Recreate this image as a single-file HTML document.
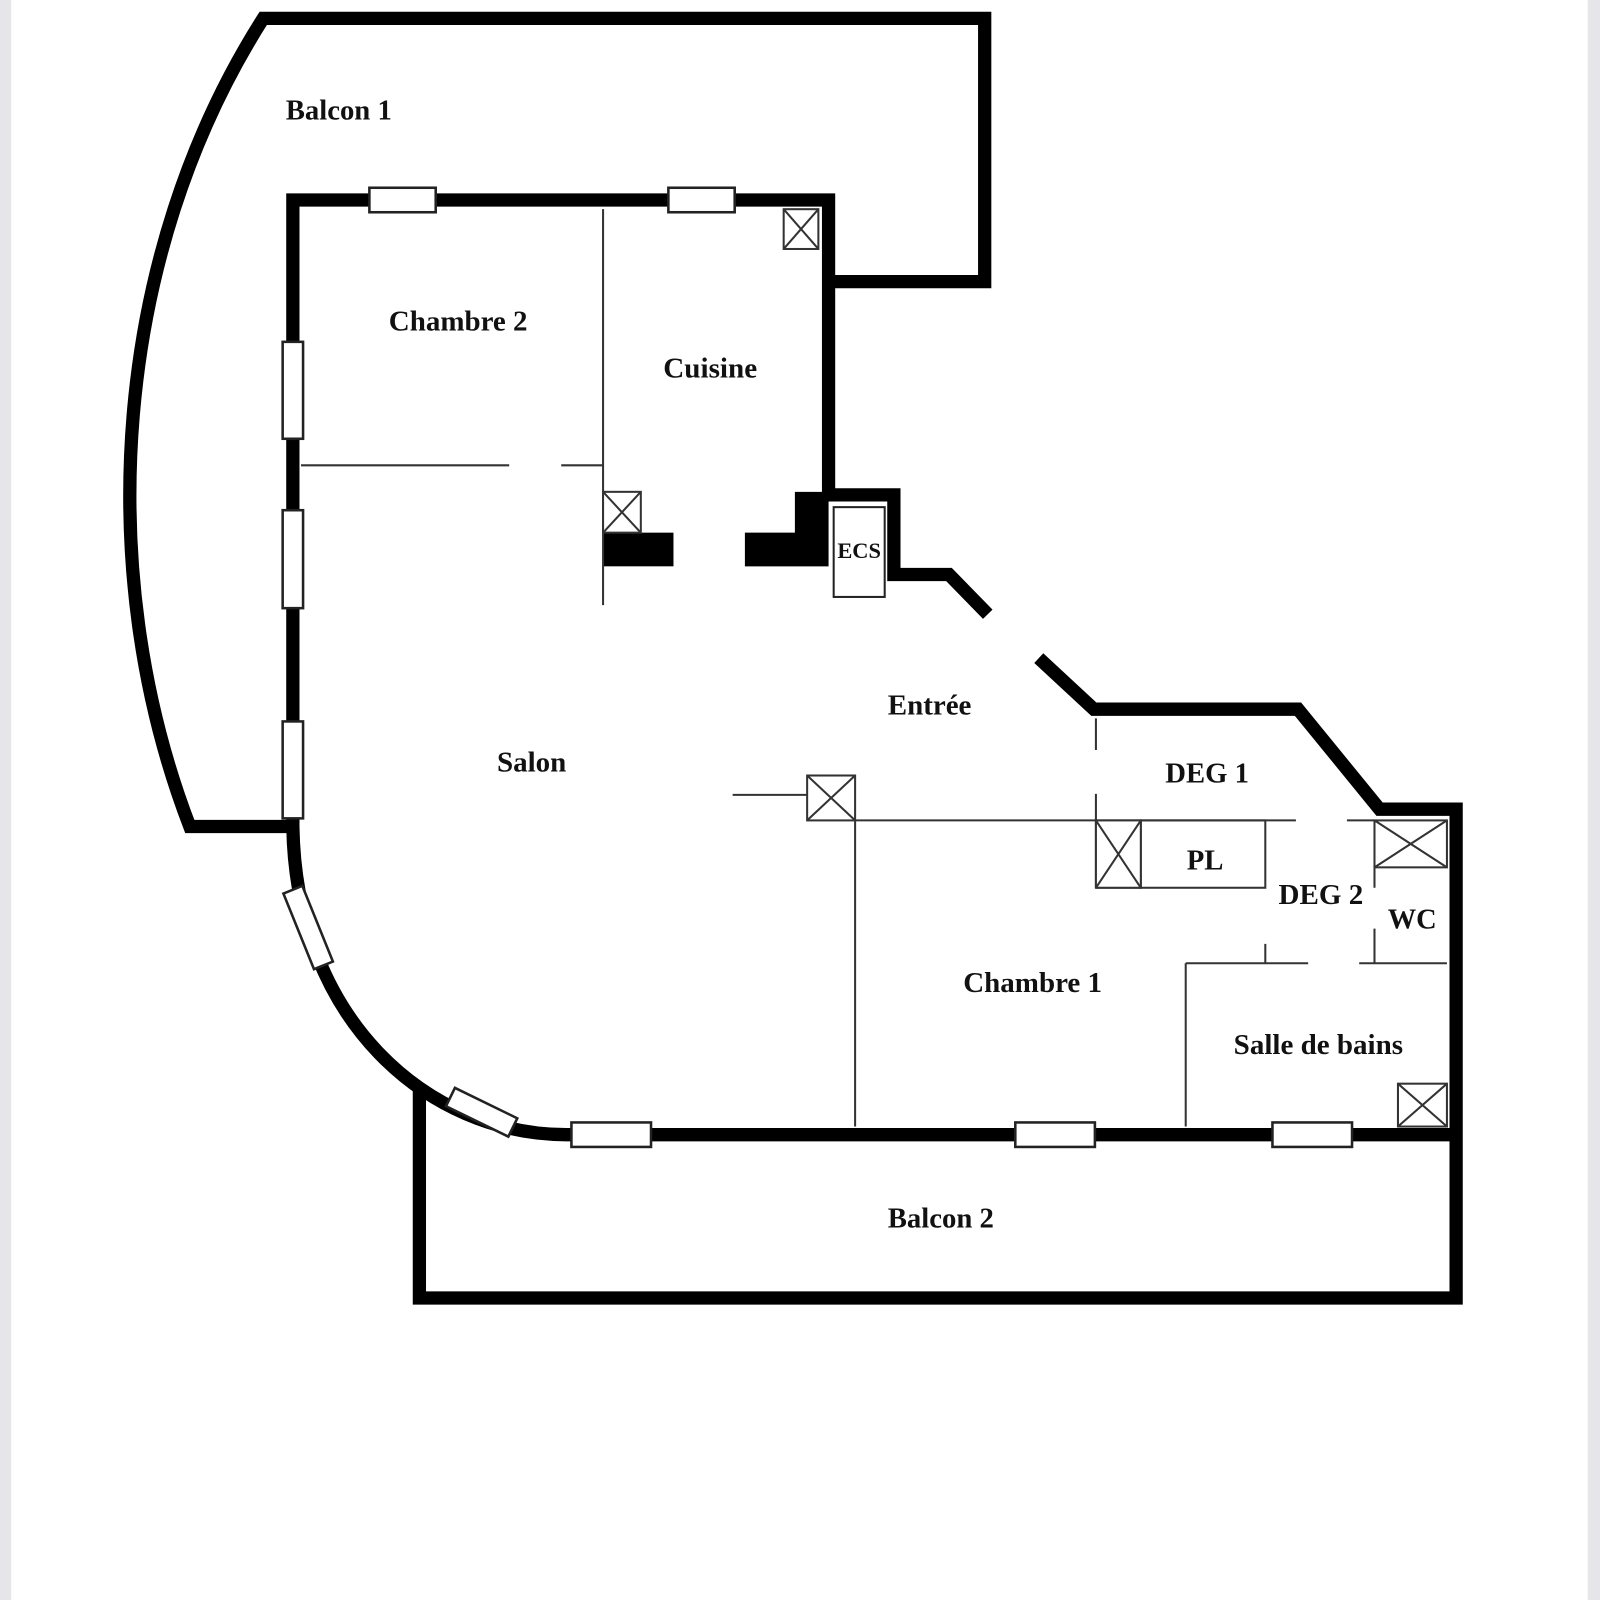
<!DOCTYPE html>
<html><head><meta charset="utf-8"><style>
html,body{margin:0;padding:0;background:#fff}
svg{display:block}
text{font-family:"Liberation Serif",serif;font-weight:bold;fill:#111}
</style></head><body>
<svg width="1600" height="1600" viewBox="0 0 1568 1568" xmlns="http://www.w3.org/2000/svg">
<rect x="0" y="0" width="1568" height="1568" fill="#fff"/>
<rect x="0" y="0" width="11" height="1568" fill="#e6e6ea"/>
<rect x="1556" y="0" width="12" height="1568" fill="#e6e6ea"/>
<g fill="none" stroke="#000" stroke-width="13" stroke-linejoin="miter">
<!-- Balcon 1 -->
<path d="M287,810 L186,810 C90,560 110,250 258,18 L965,18 L965,276 L812,276"/>
<!-- main walls -->
<path d="M287,810 L287,196 L812,196 L812,485 L876,485 L876,563 L930,563 L968,602"/>
<path d="M1018,645 L1072,695 L1272,695 L1352,793 L1427,793 L1427,1272 L411,1272 L411,1068"/>
<path d="M287,810 C290,1000 420,1112 555,1112 L1427,1112"/>
</g>
<!-- black blocks -->
<rect x="591" y="522" width="69" height="33" fill="#000"/>
<path d="M730,522 L779,522 L779,482 L812,482 L812,555 L730,555 Z" fill="#000"/>
<rect x="817" y="497" width="50" height="88" fill="#fff" stroke="#222" stroke-width="2"/>
<text x="842" y="547" font-size="22" text-anchor="middle" font-weight="normal">ECS</text>
<!-- thin lines -->
<g stroke="#333" stroke-width="2" fill="none">
<path d="M591,205 V593"/>
<path d="M295,456 H499 M550,456 H591"/>
<path d="M718,779 H791"/>
<path d="M838,804 V1104"/>
<path d="M838,804 H1270 M1320,804 H1347"/>
<path d="M1074,704 V735 M1074,778 V870"/>
<rect x="1118" y="804" width="122" height="66"/>
<path d="M1074,870 H1118"/>
<path d="M1240,925 V944"/>
<path d="M1162,944 H1282 M1332,944 H1418"/>
<path d="M1162,944 V1104"/>
<path d="M1347,850 V870 M1347,910 V944"/>
</g>
<!-- X boxes -->
<g stroke="#333" stroke-width="2" fill="#fff">
<g><rect x="768" y="205" width="34" height="39"/><path d="M768,205 L802,244 M802,205 L768,244"/></g>
<g><rect x="591" y="482" width="37" height="40"/><path d="M591,482 L628,522 M628,482 L591,522"/></g>
<g><rect x="791" y="760" width="47" height="44"/><path d="M791,760 L838,804 M838,760 L791,804"/></g>
<g><rect x="1074" y="804" width="44" height="66"/><path d="M1074,804 L1118,870 M1118,804 L1074,870"/></g>
<g><rect x="1347" y="804" width="71" height="46"/><path d="M1347,804 L1418,850 M1418,804 L1347,850"/></g>
<g><rect x="1370" y="1062" width="48" height="42"/><path d="M1370,1062 L1418,1104 M1418,1062 L1370,1104"/></g>
</g>
<!-- windows -->
<g fill="#fff" stroke="#222" stroke-width="2.5">
<rect x="362" y="184" width="65" height="24"/>
<rect x="655" y="184" width="65" height="24"/>
<rect x="277" y="335" width="20" height="95"/>
<rect x="277" y="500" width="20" height="96"/>
<rect x="277" y="707" width="20" height="95"/>
<rect x="-40" y="-10" width="80" height="20" transform="translate(302,909) rotate(68)"/>
<rect x="-34" y="-10" width="68" height="20" transform="translate(472,1090) rotate(26)"/>
<rect x="560" y="1100" width="78" height="24"/>
<rect x="995" y="1100" width="78" height="24"/>
<rect x="1247" y="1100" width="78" height="24"/>
</g>
<!-- labels -->
<g font-size="28">
<text x="280" y="117" textLength="104" lengthAdjust="spacingAndGlyphs">Balcon 1</text>
<text x="381" y="324" textLength="136" lengthAdjust="spacingAndGlyphs">Chambre 2</text>
<text x="650" y="370" textLength="92" lengthAdjust="spacingAndGlyphs">Cuisine</text>
<text x="870" y="700" textLength="82" lengthAdjust="spacingAndGlyphs">Entrée</text>
<text x="487" y="756" textLength="68" lengthAdjust="spacingAndGlyphs">Salon</text>
<text x="1142" y="767" textLength="82" lengthAdjust="spacingAndGlyphs">DEG 1</text>
<text x="1163" y="852" textLength="36" lengthAdjust="spacingAndGlyphs">PL</text>
<text x="1253" y="886" textLength="83" lengthAdjust="spacingAndGlyphs">DEG 2</text>
<text x="1360" y="910" textLength="48" lengthAdjust="spacingAndGlyphs">WC</text>
<text x="944" y="972" textLength="136" lengthAdjust="spacingAndGlyphs">Chambre 1</text>
<text x="1209" y="1033" textLength="166" lengthAdjust="spacingAndGlyphs">Salle de bains</text>
<text x="870" y="1203" textLength="104" lengthAdjust="spacingAndGlyphs">Balcon 2</text>
</g>
</svg>
</body></html>
